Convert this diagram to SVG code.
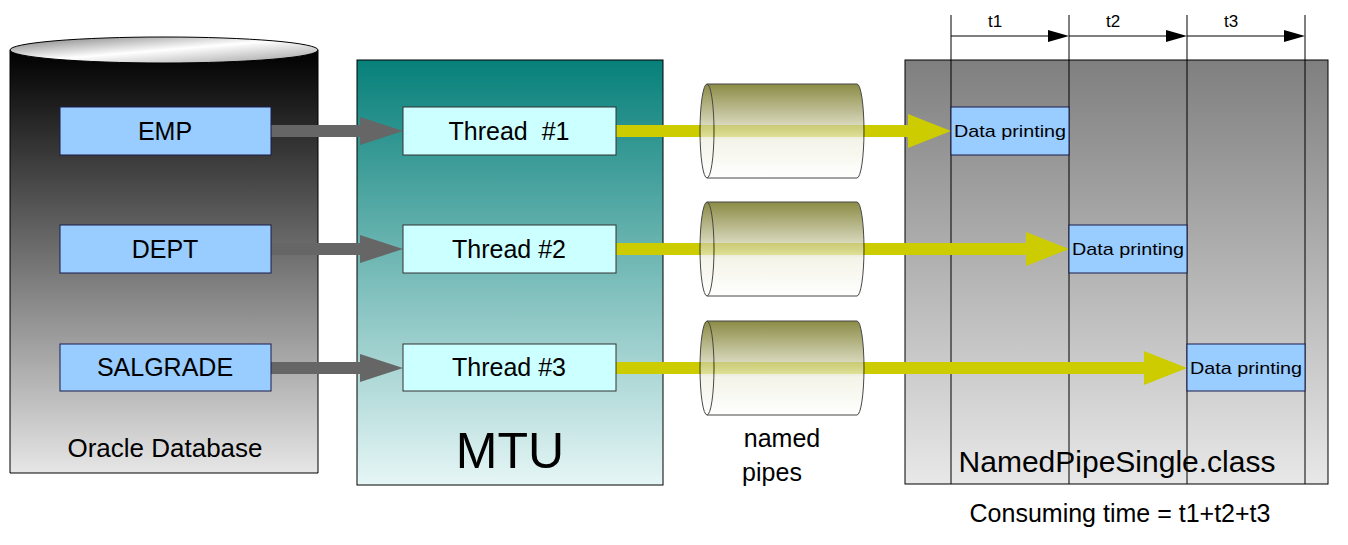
<svg xmlns="http://www.w3.org/2000/svg" width="1348" height="545" viewBox="0 0 1348 545">
<defs>
<linearGradient id="db" x1="0" y1="0" x2="0" y2="1"><stop offset="0" stop-color="#000"/><stop offset="1" stop-color="#e6e6e6"/></linearGradient>
<linearGradient id="dbtop" x1="0" y1="0" x2="1" y2="1"><stop offset="0" stop-color="#777"/><stop offset="0.5" stop-color="#fff"/><stop offset="1" stop-color="#999"/></linearGradient>
<linearGradient id="mtu" x1="0" y1="0" x2="0" y2="1"><stop offset="0" stop-color="#07807a"/><stop offset="1" stop-color="#e6f6f6"/></linearGradient>
<linearGradient id="np" x1="0" y1="0" x2="0" y2="1"><stop offset="0" stop-color="#7f7f7f"/><stop offset="1" stop-color="#e8e8e8"/></linearGradient>
<linearGradient id="pipe" x1="0" y1="0" x2="0" y2="1"><stop offset="0" stop-color="#606000"/><stop offset="0.6" stop-color="#f0f0e0"/><stop offset="1" stop-color="#fff"/></linearGradient>
</defs>
<style>
.tb{fill:#99ccff;stroke:#1a1a4a;stroke-width:1}
.th{fill:#ccffff;stroke:#333;stroke-width:1}
.t{font-family:"Liberation Sans",Arial,sans-serif;fill:#000;text-anchor:middle}
.vl{stroke:#000;stroke-width:1}
</style>
<g id="oracle">
<path d="M10,50 L10,473 L318,473 L318,50 Z" fill="url(#db)" stroke="#000"/>
<ellipse cx="164" cy="50" rx="154" ry="13" fill="url(#dbtop)" stroke="#000"/>
<text class="t" x="165" y="457" font-size="26">Oracle Database</text>
</g>
<g id="mtu"><rect x="357" y="60" width="306" height="425" fill="url(#mtu)" stroke="#000"/>
<text class="t" x="510" y="468" font-size="50">MTU</text></g>
<g id="nps"><rect x="905" y="60" width="423" height="424" fill="url(#np)" stroke="#000"/>
<text class="t" x="1117" y="472" font-size="30">NamedPipeSingle.class</text></g>
<g id="timeline">
<line class="vl" x1="951" y1="15" x2="951" y2="484"/><line class="vl" x1="1069" y1="15" x2="1069" y2="484"/>
<line class="vl" x1="1187" y1="15" x2="1187" y2="484"/><line class="vl" x1="1305" y1="15" x2="1305" y2="484"/>
<path d="M951,36H1050M1187,36H1286M1069,36H1168" stroke="#000"/>
<path d="M1048,30L1069,36L1048,42ZM1166,30L1187,36L1166,42ZM1284,30L1305,36L1284,42Z"/>
<text class="t" x="995" y="27" font-size="17">t1</text><text class="t" x="1113" y="27" font-size="17">t2</text><text class="t" x="1231" y="27" font-size="17">t3</text>
</g>
<g id="connectors">
<g fill="#666"><path d="M271,125H360V117L403,131L360,145V137H271Z"/><path d="M271,243H360V235L403,249L360,263V255H271Z"/><path d="M271,362H360V354L403,368L360,382V374H271Z"/></g>
<g fill="#cccc00"><path d="M616,125H908V114L951,131L908,148V137H616Z"/><path d="M616,243H1026V232L1069,249L1026,266V255H616Z"/><path d="M616,362H1144V351L1187,368L1144,385V374H616Z"/></g>
</g>
<g id="pipes" stroke="#000" stroke-width="1" opacity="0.72">
<path d="M707,84H857A7,47 0 0 1 857,178H707Z" fill="url(#pipe)"/><ellipse cx="707" cy="131" rx="7" ry="47" fill="url(#pipe)"/>
<path d="M707,202H857A7,47 0 0 1 857,296H707Z" fill="url(#pipe)"/><ellipse cx="707" cy="249" rx="7" ry="47" fill="url(#pipe)"/>
<path d="M707,321H857A7,47 0 0 1 857,415H707Z" fill="url(#pipe)"/><ellipse cx="707" cy="368" rx="7" ry="47" fill="url(#pipe)"/>
</g>
<g id="emp"><rect class="tb" x="60" y="107" width="211" height="48"/><text class="t" x="165" y="140" font-size="25">EMP</text></g>
<g id="dept"><rect class="tb" x="60" y="225" width="211" height="48"/><text class="t" x="165" y="258" font-size="25">DEPT</text></g>
<g id="salgrade"><rect class="tb" x="60" y="344" width="211" height="47"/><text class="t" x="165" y="376" font-size="25">SALGRADE</text></g>
<g id="thread1"><rect class="th" x="403" y="107" width="213" height="48"/><text class="t" x="509" y="140" font-size="25" xml:space="preserve">Thread  #1</text></g>
<g id="thread2"><rect class="th" x="403" y="225" width="213" height="48"/><text class="t" x="509" y="258" font-size="25">Thread #2</text></g>
<g id="thread3"><rect class="th" x="403" y="344" width="213" height="47"/><text class="t" x="509" y="376" font-size="25">Thread #3</text></g>
<g id="dp1"><rect class="tb" x="951" y="107" width="118" height="48"/><text class="t" x="1010" y="137" font-size="17" textLength="112" lengthAdjust="spacingAndGlyphs">Data printing</text></g>
<g id="dp2"><rect class="tb" x="1069" y="225" width="118" height="48"/><text class="t" x="1128" y="255" font-size="17" textLength="112" lengthAdjust="spacingAndGlyphs">Data printing</text></g>
<g id="dp3"><rect class="tb" x="1187" y="344" width="118" height="47"/><text class="t" x="1246" y="374" font-size="17" textLength="112" lengthAdjust="spacingAndGlyphs">Data printing</text></g>
<text class="t" x="782" y="447" font-size="25">named</text><text class="t" x="772" y="481" font-size="25">pipes</text>
<text class="t" x="1120" y="522" font-size="25">Consuming time = t1+t2+t3</text>
</svg>
